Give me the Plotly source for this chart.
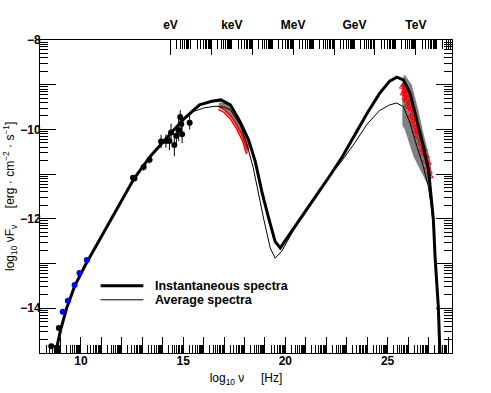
import numpy as np
import plotly.graph_objects as go

# ---- data (log10 nu [Hz], log10 nuFnu) ----
inst_x = [8.76, 9.0, 9.3, 9.7, 10.2, 11.0, 11.8, 12.6, 13.4, 14.2, 15.0, 15.8, 16.4, 16.85,
          17.31, 17.79, 18.2, 18.53, 18.85, 19.18, 19.5, 19.75, 20.0, 20.4, 21.0, 21.6, 22.2,
          22.8, 23.4, 24.0, 24.6, 25.1, 25.45, 25.77, 26.1, 26.43, 26.75, 27.0, 27.16, 27.24,
          27.32, 27.48, 27.56]
inst_y = [-15.0, -14.5, -14.0, -13.5, -13.05, -12.4, -11.75, -11.1, -10.6, -10.2, -9.78, -9.45,
          -9.37, -9.34, -9.45, -9.83, -10.23, -10.72, -11.39, -11.98, -12.51, -12.65, -12.48,
          -12.21, -11.82, -11.42, -11.02, -10.6, -10.12, -9.64, -9.2, -8.92, -8.83, -8.89,
          -9.19, -9.79, -10.38, -10.9, -11.57, -12.02, -12.84, -13.96, -15.0]

avg_x = [8.76, 9.0, 9.3, 9.7, 10.2, 11.0, 11.8, 12.6, 13.4, 14.2, 15.0, 15.5, 16.0, 16.6, 17.0,
         17.31, 17.79, 18.1, 18.43, 18.93, 19.26, 19.5, 19.83, 20.1, 20.4, 21.0, 21.6, 22.2,
         22.8, 23.4, 24.0, 24.6, 25.1, 25.45, 25.77, 26.1, 26.43, 26.75, 27.0, 27.16, 27.26,
         27.34, 27.48, 27.56]
avg_y = [-15.0, -14.5, -14.0, -13.5, -13.05, -12.4, -11.75, -11.1, -10.6, -10.2, -9.8, -9.6,
         -9.52, -9.48, -9.5, -9.56, -9.9, -10.3, -10.86, -11.98, -12.65, -12.88, -12.72, -12.5,
         -12.25, -11.82, -11.42, -11.03, -10.68, -10.3, -9.88, -9.58, -9.45, -9.41, -9.49,
         -9.86, -10.38, -10.83, -11.3, -11.8, -12.3, -12.9, -13.96, -15.0]

# grey uncertainty regions
xband_x = [16.75, 17.1, 17.5, 17.9, 18.2, 18.25, 18.15, 17.8, 17.4, 17.0, 16.75]
xband_y = [-9.4, -9.4, -9.55, -9.9, -10.25, -10.4, -10.55, -10.1, -9.75, -9.58, -9.52]
gband_x = [25.78, 25.85, 26.18, 26.5, 26.75, 27.08, 27.16, 27.08, 26.92, 26.59, 26.26, 25.85,
           25.72, 25.72]
gband_y = [-8.8, -8.78, -9.0, -9.56, -10.08, -10.68, -10.98, -11.28, -11.2, -10.9, -10.6,
           -10.01, -9.9, -9.0]

# X-ray spectra (red)
xray1_x = [16.72, 17.0, 17.3, 17.6, 17.9, 18.15]
xray1_y = [-9.48, -9.55, -9.68, -9.88, -10.13, -10.45]
xray2_x = [16.72, 17.0, 17.3, 17.6, 17.9, 18.1]
xray2_y = [-9.55, -9.62, -9.76, -9.97, -10.25, -10.55]

# TeV points (red)
tev_x = [25.72, 25.75, 25.78, 25.8, 25.83, 25.86, 25.9, 25.93, 25.97, 26.0, 26.04, 26.08, 26.12,
         26.16, 26.2, 26.24, 26.28, 26.32, 26.36, 26.4, 26.45, 26.5, 26.55, 26.6, 26.65, 26.7,
         26.75, 26.8, 26.85, 26.9, 26.95, 27.0, 27.05, 27.1]
tev_y = [-9.05, -9.2, -9.0, -9.15, -9.3, -9.1, -9.35, -9.2, -9.45, -9.3, -9.5, -9.4, -9.7, -9.55,
         -9.8, -9.65, -9.9, -9.75, -10.05, -9.95, -10.15, -10.05, -10.3, -10.2, -10.45, -10.35,
         -10.55, -10.45, -10.7, -10.6, -10.85, -10.75, -10.95, -11.05]

# optical / IR points (black)
opt_x = [8.55, 8.92, 12.55, 12.62, 13.07, 13.36, 13.92, 14.16, 14.33, 14.41, 14.57, 14.67,
         14.78, 14.86, 14.91, 14.95, 15.32]
opt_y = [-14.85, -14.44, -11.08, -11.1, -10.84, -10.68, -10.27, -10.26, -10.26, -10.07, -10.35,
         -10.14, -10.01, -9.72, -9.88, -10.11, -9.85]
opt_err = [0.05, 0.05, 0.05, 0.05, 0.08, 0.08, 0.15, 0.15, 0.2, 0.2, 0.25, 0.2, 0.25, 0.15,
           0.2, 0.2, 0.15]

# radio points (blue)
radio_x = [9.11, 9.36, 9.69, 9.93, 10.29]
radio_y = [-14.08, -13.83, -13.48, -13.21, -12.92]

# axis ticks and labels
x_lab_vals = [10, 15, 20, 25]
x_lab_text = ['10', '15', '20', '25']
y_lab_vals = [-14, -12, -10, -8]
y_lab_text = ['\u221214', '\u221212', '\u221210', '\u22128']
energy_labels = ['eV', 'keV', 'MeV', 'GeV', 'TeV']
legend_names = ['Instantaneous spectra', 'Average spectra']

XR = [8, 28.15]
YR = [-15, -8]
e0 = np.log10(2.418e14)  # 1 eV in Hz

x_int = [v for v in range(8, 29) if v not in x_lab_vals]
y_int = [v for v in range(-15, -7) if v not in y_lab_vals]
x_minor = [n + np.log10(k) for n in range(7, 29) for k in range(2, 10)
           if XR[0] < n + np.log10(k) < XR[1]]
y_minor = [n + np.log10(k) for n in range(-16, -7) for k in range(2, 10)
           if YR[0] < n + np.log10(k) < YR[1]]
top_major = [e0 + 2 * k for k in range(7) if e0 + 2 * k < XR[1]]
top_minor = [e0 + d + np.log10(k) for d in range(14) for k in range(1, 10)
             if k > 1 or d % 2 == 1]
top_minor = [v for v in top_minor if v < XR[1]]
top_lab = [e0 + 3 * k for k in range(5)]

FONT = 'Liberation Sans, Arial, sans-serif'
BOLD12 = dict(size=12, weight='bold', family=FONT, color='black')
SP = '\u00a0'

fig = go.Figure()

fig.add_trace(go.Scatter(x=xband_x, y=xband_y, fill='toself', fillcolor='#808080', mode='lines',
                         line=dict(width=0), showlegend=False, hoverinfo='skip'))
fig.add_trace(go.Scatter(x=gband_x, y=gband_y, fill='toself', fillcolor='#808080', mode='lines',
                         line=dict(width=0), showlegend=False, hoverinfo='skip'))
for xx, yy in [(xray1_x, xray1_y), (xray2_x, xray2_y)]:
    fig.add_trace(go.Scatter(x=xx, y=yy, mode='lines', line=dict(color='red', width=1.5),
                             showlegend=False))
fig.add_trace(go.Scatter(x=tev_x, y=tev_y, mode='markers',
                         marker=dict(symbol='triangle-up-open', size=5, color='red',
                                     line=dict(width=1, color='red')),
                         error_y=dict(type='constant', value=0.07, color='red', thickness=1,
                                      width=0),
                         showlegend=False))
fig.add_trace(go.Scatter(x=avg_x, y=avg_y, mode='lines', line=dict(color='black', width=1),
                         name=legend_names[1], showlegend=False))
fig.add_trace(go.Scatter(x=inst_x, y=inst_y, mode='lines', line=dict(color='black', width=3),
                         name=legend_names[0], showlegend=False))
fig.add_trace(go.Scatter(x=opt_x, y=opt_y, mode='markers',
                         marker=dict(size=6, color='black'),
                         error_y=dict(type='data', array=opt_err, color='black', thickness=1,
                                      width=0),
                         showlegend=False))
fig.add_trace(go.Scatter(x=radio_x, y=radio_y, mode='markers',
                         marker=dict(size=6, color='#0000ff'), showlegend=False))

# invisible traces so the extra tick axes are drawn
for xa, ya in [('x2', 'y'), ('x3', 'y'), ('x4', 'y'), ('x', 'y2')]:
    fig.add_trace(go.Scatter(x=[XR[0]], y=[YR[0]], xaxis=xa, yaxis=ya, mode='markers',
                             marker=dict(opacity=0), showlegend=False, hoverinfo='skip'))

# hand-drawn legend (ROOT style, long line samples)
for i, (name, w) in enumerate(zip(legend_names, [3, 1])):
    yy = 0.215 - i * 0.045
    fig.add_shape(type='line', xref='paper', yref='paper', x0=0.147, x1=0.251, y0=yy, y1=yy,
                  line=dict(color='black', width=w))
    fig.add_annotation(xref='paper', yref='paper', x=0.275, y=yy, xanchor='left',
                       yanchor='middle', text=name, showarrow=False,
                       font=dict(size=12.5, weight='bold', family=FONT, color='black'))

# y axis title placed by hand
fig.add_annotation(xref='paper', yref='paper', x=-0.074, y=0.5, xanchor='center',
                   yanchor='middle', textangle=-90, showarrow=False,
                   text='log<sub>10</sub> \u03bdF<sub>\u03bd</sub>' + SP * 5 + '[erg' + SP
                        + '\u00b7' + SP + 'cm<sup>\u22122</sup>' + SP + '\u00b7' + SP
                        + 's<sup>\u22121</sup>]',
                   font=dict(size=12, family=FONT, color='black'))

common = dict(showgrid=False, zeroline=False, automargin=False, tickcolor='black', tickwidth=1)

fig.update_layout(
    width=491, height=393,
    margin=dict(l=40, r=39, t=40, b=40),
    paper_bgcolor='white', plot_bgcolor='white',
    font=dict(family=FONT, color='black'),
    showlegend=False,
    hovermode=False,
    xaxis=dict(range=XR, showline=True, linecolor='black', linewidth=1,
               ticks='inside', ticklen=16, tickvals=x_lab_vals, ticktext=x_lab_text,
               tickfont=BOLD12, ticklabelstandoff=-3,
               minor=dict(tickvals=x_minor, ticks='inside', ticklen=8, tickcolor='black'),
               title=dict(text='log<sub>10</sub> \u03bd' + SP * 5 + '[Hz]', font=dict(size=12),
                          standoff=6), **common),
    xaxis4=dict(range=XR, overlaying='x', side='bottom', showline=False, ticks='inside',
                ticklen=16, tickvals=x_int, showticklabels=False, **common),
    xaxis2=dict(range=XR, overlaying='x', side='top', showline=True, linecolor='black',
                linewidth=1, ticks='', tickvals=top_lab, ticktext=energy_labels,
                tickfont=BOLD12, ticklabelstandoff=5,
                minor=dict(tickvals=top_minor, ticks='inside', ticklen=9, tickcolor='black'),
                **common),
    xaxis3=dict(range=XR, overlaying='x', side='top', showline=False, ticks='inside',
                ticklen=15, tickvals=top_major, showticklabels=False, **common),
    yaxis=dict(range=YR, showline=True, linecolor='black', linewidth=1, mirror='ticks',
               ticks='inside', ticklen=16, tickvals=y_lab_vals, ticktext=y_lab_text,
               tickfont=BOLD12, ticklabelstandoff=-4,
               minor=dict(tickvals=y_minor, ticks='inside', ticklen=8, tickcolor='black'),
               **common),
    yaxis2=dict(range=YR, overlaying='y', side='left', showline=False, mirror='ticks',
                ticks='inside', ticklen=16, tickvals=y_int, showticklabels=False, **common),
)

# drop the browser's default 8px body margin so the figure sits at the page corner
fig.write_html('out.html', config={'displayModeBar': False},
               post_script="document.body.style.margin='0';")
